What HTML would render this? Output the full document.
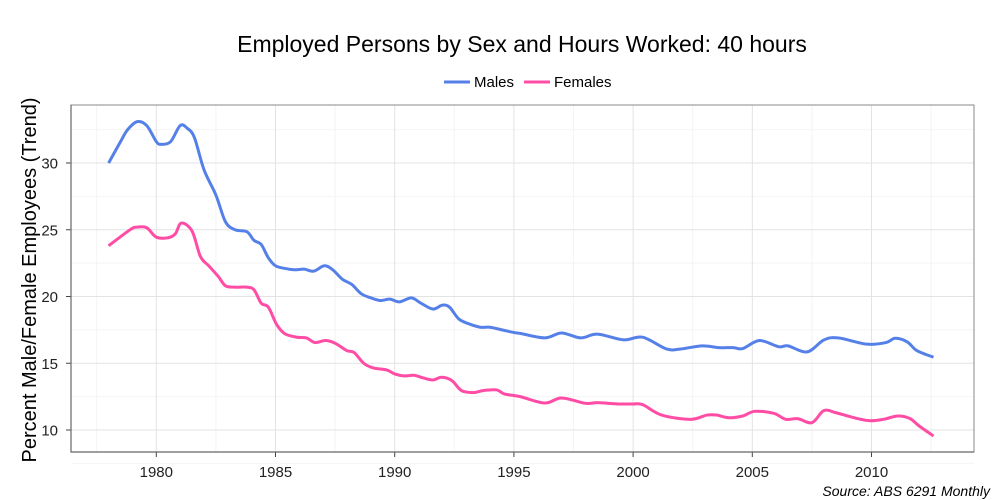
<!DOCTYPE html>
<html><head><meta charset="utf-8"><style>
body{margin:0;background:#fff;font-family:"Liberation Sans",sans-serif}
svg{display:block}
</style></head><body>
<svg id="c" width="1000" height="500">
<text x="522" y="52" text-anchor="middle" font-size="23" fill="#000">Employed Persons by Sex and Hours Worked: 40 hours</text>
<g>
<g><line x1="444" y1="82" x2="470" y2="82" stroke="#5580e8" stroke-width="3"/><text x="474" y="87" font-size="15">Males</text></g>
<g><line x1="524" y1="82" x2="550" y2="82" stroke="#ff4da6" stroke-width="3"/><text x="554" y="87" font-size="15">Females</text></g>
</g>
<g id="plot"></g>
<text transform="translate(36,280) rotate(-90)" text-anchor="middle" font-size="20">Percent Male/Female Employees (Trend)</text>
<text x="990" y="496" text-anchor="end" font-size="14" font-style="italic">Source: ABS 6291 Monthly</text>
</svg>
<script>
const maleYears=[1978.0,1978.5,1978.8,1979.2,1979.6,1980.0,1980.2,1980.6,1981.0,1981.3,1981.6,1982.0,1982.5,1982.9,1983.3,1983.8,1984.1,1984.4,1984.7,1985.0,1985.4,1985.8,1986.2,1986.6,1987.05,1987.4,1987.8,1988.2,1988.6,1989.0,1989.4,1989.8,1990.2,1990.7,1991.1,1991.6,1992.0,1992.3,1992.7,1993.2,1993.6,1994.0,1994.5,1995.0,1995.26,1996.3,1997.0,1997.8,1998.5,1999.6,2000.4,2001.4,2002.0,2002.9,2003.6,2004.2,2004.6,2005.3,2006.1,2006.5,2007.3,2008.0,2008.6,2009.8,2010.6,2011.0,2011.5,2011.9,2012.6];
const maleValues=[30.0,31.6,32.5,33.1,32.8,31.6,31.4,31.6,32.8,32.6,31.9,29.5,27.6,25.6,25.0,24.85,24.2,23.9,22.9,22.3,22.1,22.0,22.05,21.9,22.3,22.0,21.3,20.9,20.2,19.9,19.7,19.8,19.6,19.9,19.5,19.06,19.35,19.2,18.3,17.9,17.7,17.7,17.5,17.3,17.24,16.9,17.27,16.9,17.18,16.75,16.95,16.07,16.07,16.3,16.17,16.17,16.1,16.7,16.24,16.3,15.85,16.74,16.9,16.43,16.55,16.87,16.6,15.95,15.45];
const femaleYears=[1978.0,1978.9,1979.2,1979.6,1980.0,1980.5,1980.8,1981.05,1981.5,1981.85,1982.2,1982.6,1982.9,1983.3,1983.8,1984.1,1984.4,1984.7,1985.05,1985.4,1985.9,1986.3,1986.65,1987.1,1987.5,1988.0,1988.3,1988.7,1989.1,1989.66,1990.0,1990.4,1990.8,1991.2,1991.6,1991.97,1992.4,1992.8,1993.3,1993.7,1994.28,1994.6,1995.26,1996.3,1997.0,1998.0,1998.5,1999.4,2000.0,2000.4,2001.2,2002.4,2003.1,2003.5,2004.0,2004.6,2005.1,2005.9,2006.4,2006.9,2007.5,2008.0,2008.5,2009.2,2009.9,2010.5,2011.1,2011.6,2012.0,2012.6];
const femaleValues=[23.8,25.0,25.2,25.15,24.45,24.4,24.7,25.5,24.9,23.0,22.3,21.5,20.8,20.7,20.7,20.5,19.5,19.2,17.9,17.2,16.95,16.9,16.55,16.7,16.5,15.94,15.8,15.0,14.65,14.5,14.2,14.05,14.1,13.9,13.75,13.95,13.7,12.95,12.8,12.95,13.0,12.7,12.5,12.02,12.4,12.0,12.05,11.95,11.95,11.9,11.12,10.8,11.12,11.12,10.92,11.05,11.4,11.25,10.8,10.85,10.55,11.45,11.3,10.95,10.7,10.8,11.05,10.87,10.3,9.55];
const xTicks=[1980,1985,1990,1995,2000,2005,2010];
const yTicks=[10,15,20,25,30];
const L=71,T=105,R=974,B=452;
const X=y=>156.3+(y-1980)*23.84;
const Y=v=>430-(v-10)*13.35;
const NS='http://www.w3.org/2000/svg';
const g=document.getElementById('plot');
function mk(t,a,p){const e=document.createElementNS(NS,t);for(const k in a)e.setAttribute(k,a[k]);(p||g).appendChild(e);return e;}
const bg=mk('rect',{x:L,y:T,width:R-L,height:B-T,fill:'#fff'});


for(let i=0;i<xTicks.length+1;i++){const v=xTicks[0]-2.5+i*5;const l=mk('line',{x1:X(v),x2:X(v),y1:T,y2:B,stroke:'#f4f4f4','stroke-width':1});

}
for(let i=0;i<yTicks.length+1;i++){const v=yTicks[0]-2.5+i*5;const l=mk('line',{x1:L,x2:R,y1:Y(v),y2:Y(v),stroke:'#f4f4f4','stroke-width':1});

}
xTicks.forEach(v=>{const l=mk('line',{x1:X(v),x2:X(v),y1:T,y2:B,stroke:'#e3e3e3','stroke-width':1});


const tk=mk('line',{x1:X(v),x2:X(v),y1:B,y2:B+5,stroke:'#444'});


const t=mk('text',{x:X(v),y:B+25,'text-anchor':'middle','font-size':15,fill:'#222'});t.textContent=v;

});
yTicks.forEach(v=>{const l=mk('line',{x1:L,x2:R,y1:Y(v),y2:Y(v),stroke:'#e3e3e3','stroke-width':1});


const tk=mk('line',{x1:L-5,x2:L,y1:Y(v),y2:Y(v),stroke:'#444'});


const t=mk('text',{x:L-13,y:Y(v)+5.5,'text-anchor':'end','font-size':15,fill:'#222'});t.textContent=v;

});
const br=mk('rect',{x:L,y:T,width:R-L,height:B-T,fill:'none',stroke:'#888','stroke-width':1});


const ax=mk('path',{d:'M'+L+','+T+' V'+B+' H'+R,fill:'none',stroke:'#666','stroke-width':1.2});


function path(xs,vs){const p=xs.map((x,i)=>[X(x),Y(vs[i])]);let d='M'+p[0][0]+','+p[0][1];
for(let i=0;i<p.length-1;i++){const p0=p[i-1]||p[i],p1=p[i],p2=p[i+1],p3=p[i+2]||p2;
d+=' C'+(p1[0]+(p2[0]-p0[0])/6)+','+(p1[1]+(p2[1]-p0[1])/6)+' '+(p2[0]-(p3[0]-p1[0])/6)+','+(p2[1]-(p3[1]-p1[1])/6)+' '+p2[0]+','+p2[1];}return d;}
const m=mk('path',{d:path(maleYears,maleValues),fill:'none',stroke:'#5580e8','stroke-width':3,'stroke-linejoin':'round'});


const f=mk('path',{d:path(femaleYears,femaleValues),fill:'none',stroke:'#ff4da6','stroke-width':3,'stroke-linejoin':'round'});


</script>
</body></html>
